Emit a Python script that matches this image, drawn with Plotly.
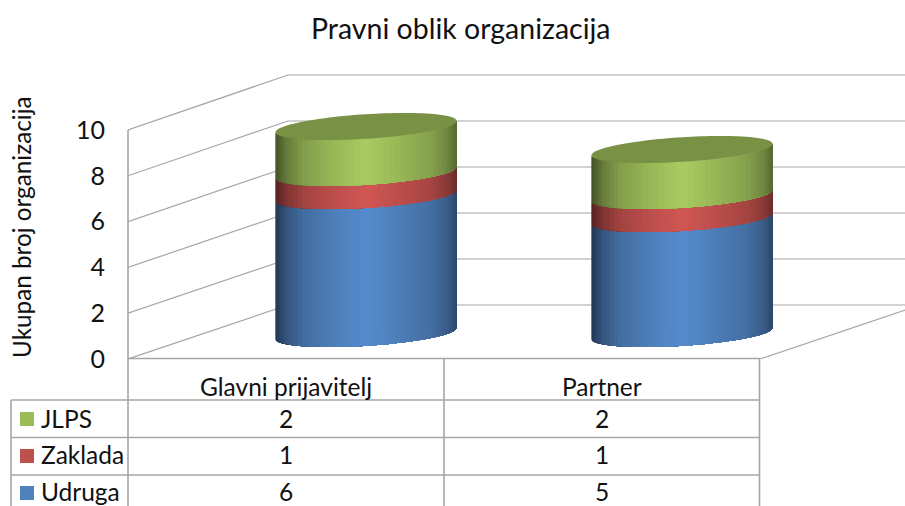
import numpy as np
import plotly.graph_objects as go

categories = ["Glavni prijavitelj", "Partner"]
udruga = [6, 5]
zaklada = [1, 1]
jlps = [2, 2]
series_names = ["Udruga", "Zaklada", "JLPS"]
series_values = [udruga, zaklada, jlps]
series_colors = ["#4f81bd", "#c0504d", "#9bbb59"]
y_ticks = [0, 2, 4, 6, 8, 10]
title_text = "Pravni oblik organizacija"
y_title = "Ukupan broj organizacija"

W, H = 905, 506
ML, MT, MB = 128, 50, 147
PW, PH = W - ML, H - MT - MB
PX_PER_UNIT = 22.9
CAT_PX = 316.0
FONT = "Lato"
TXT = "#111111"
GRID = "#a6a6a6"


def px(xp):
    return (xp - ML) / PW


def py(yp):
    return (H - MB - yp) / PH


depth_x = 160 / CAT_PX
back_base = (359 - 305) / PX_PER_UNIT
back_scale = 23 / PX_PER_UNIT
x_max = PW / CAT_PX
y_max = PH / PX_PER_UNIT

fig = go.Figure()

# walls and floor
wx, wy = [], []
for v in y_ticks:
    by = back_base + back_scale * v
    wx += [0, depth_x, x_max, None]
    wy += [v, by, by, None]
wx += [len(categories), len(categories) + depth_x, None]
wy += [0, back_base, None]
fig.add_trace(go.Scatter(x=wx, y=wy, mode="lines", line=dict(color=GRID, width=1.2),
                         hoverinfo="skip", showlegend=False))

# cylinders
cyl_base = (359 - 333.5) / PX_PER_UNIT
cyl_scale = 23 / PX_PER_UNIT
half_w = 0.5 * 181 / CAT_PX
tilt = 5.7 / PX_PER_UNIT
ry = 12.3 / PX_PER_UNIT
STOPS_U = [0, 0.05, 0.14, 0.32, 0.5, 0.68, 0.84, 0.94, 1]
STOPS_F = [0.56, 0.72, 0.86, 0.98, 1.09, 0.98, 0.85, 0.66, 0.44]
N = 48


def shade(hex_c, f):
    rgb = [int(hex_c[i:i + 2], 16) for i in (1, 3, 5)]
    return "rgb(%d,%d,%d)" % tuple(min(255, int(c * f)) for c in rgb)


def arc(cx, level, t):
    return cx + half_w * np.cos(t), cyl_base + cyl_scale * level + tilt * np.cos(t) - ry * np.sin(t)


for c, _cat in enumerate(categories):
    cx = c + 0.5 + depth_x / 2
    level = 0
    for s, vals in enumerate(series_values):
        lo, hi = level, level + vals[c]
        ts = np.linspace(np.pi, 0, N + 1)
        for k in range(N):
            # each strip reaches to the right edge; the next one paints over it, so no seams show
            t = np.linspace(ts[k], 0, 2 * (N - k) + 1)
            x0, y0 = arc(cx, lo, t)
            x1, y1 = arc(cx, hi, t[::-1])
            tm = (ts[k] + ts[k + 1]) / 2
            u = (1 + np.cos(np.pi - tm)) / 2
            col = shade(series_colors[s], float(np.interp(u, STOPS_U, STOPS_F)))
            fig.add_trace(go.Scatter(
                x=np.r_[x0, x1, x0[0]], y=np.r_[y0, y1, y0[0]], mode="none",
                fill="toself", fillcolor=col, hoverinfo="skip", showlegend=False))
        level = hi
    # top cap
    t = np.linspace(0, 2 * np.pi, 121)
    xt, yt = arc(cx, level, t)
    cap = shade(series_colors[-1], 0.78)
    fig.add_trace(go.Scatter(x=xt, y=yt, mode="none", fill="toself", fillcolor=cap,
                             hoverinfo="skip", showlegend=False))

# data table
shapes = []


def hline(yp, x0, x1):
    shapes.append(dict(type="line", xref="paper", yref="paper", x0=px(x0), x1=px(x1), y0=py(yp), y1=py(yp),
                       line=dict(color=GRID, width=1.6), layer="above"))


def vline(xp, y0, y1):
    shapes.append(dict(type="line", xref="paper", yref="paper", x0=px(xp), x1=px(xp), y0=py(y0), y1=py(y1),
                       line=dict(color=GRID, width=1.6), layer="above"))


hline(358.5, 128, 760)
hline(400, 11, 760)
hline(437.5, 11, 760)
hline(475, 11, 760)
vline(128, 130, 506)
vline(444, 358.5, 506)
vline(759.5, 358.5, 506)
vline(11, 400, 506)

annotations = []


def label(text, xp, yp, size, anchor="center", angle=0):
    annotations.append(dict(text=text, xref="paper", yref="paper", x=px(xp), y=py(yp), showarrow=False,
                            xanchor=anchor, yanchor="middle", textangle=angle,
                            font=dict(family=FONT, size=size, color=TXT)))


col_centers = [286, 602]
key_centers = [419, 456, 493]
text_centers = [418, 455, 491]
for i, cat in enumerate(categories):
    label(cat, col_centers[i], 386, 24.5)
for r, s in enumerate([2, 1, 0]):
    yc = text_centers[r]
    label(series_names[s], 39, yc, 24.5, anchor="left")
    yk = key_centers[r]
    shapes.append(dict(type="rect", xref="paper", yref="paper", x0=px(20), x1=px(34), y0=py(yk - 7), y1=py(yk + 7),
                       fillcolor=series_colors[s], line=dict(width=0), layer="above"))
    for i in range(len(categories)):
        label(str(series_values[s][i]), col_centers[i], yc, 24.5)

label(y_title, 21, 227, 24.3, angle=-90)
label(title_text, 461, 28, 28.5)

fig.update_layout(
    width=W, height=H, autosize=False,
    margin=dict(l=ML, r=0, t=MT, b=MB),
    paper_bgcolor="white", plot_bgcolor="white",
    showlegend=False, shapes=shapes, annotations=annotations,
    xaxis=dict(range=[0, x_max], visible=False, fixedrange=True),
    yaxis=dict(range=[0, y_max], tickmode="array", tickvals=y_ticks, showgrid=False, zeroline=False,
               showline=False, ticks="", ticklabelstandoff=22, fixedrange=True,
               tickfont=dict(family=FONT, size=25, color=TXT)),
)
fig.write_html("out.html", config=dict(displayModeBar=False),
               post_script="document.body.style.margin='0';document.body.style.overflow='hidden';")
